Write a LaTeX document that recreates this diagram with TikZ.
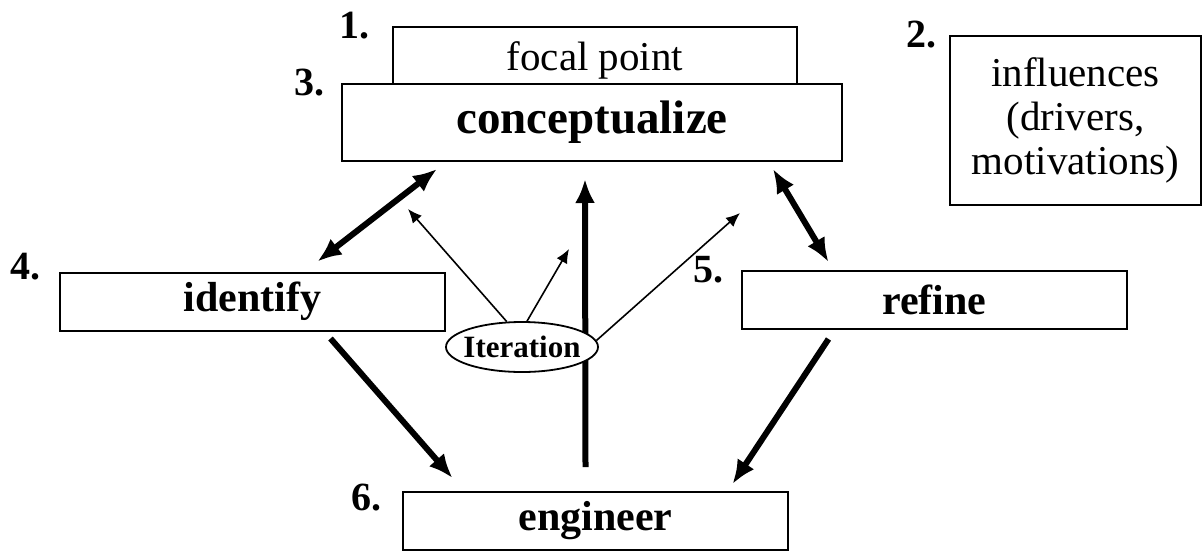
\documentclass[tikz,border=0pt]{standalone}
\usepackage{fontspec}
\setmainfont{Liberation Serif}
\usetikzlibrary{positioning,shapes.geometric,arrows.meta,calc}

\tikzset{
  box/.style={draw, line width=1pt, fill=white, minimum width=192.5pt, minimum height=29pt, font=\fontsize{21}{24}\selectfont\bfseries},
  num/.style={inner sep=0pt, font=\fontsize{20}{24}\selectfont\bfseries},
  link/.style={line width=3pt, -{Latex[length=12pt,width=10pt]}},
  linkboth/.style={line width=3pt, {Latex[length=12pt,width=10pt]}-{Latex[length=12pt,width=10pt]}},
  hint/.style={line width=0.8pt, -{Latex[length=7pt,width=6pt]}}
}

\begin{document}
\begin{tikzpicture}[x=0.5pt,y=-0.5pt]
\useasboundingbox (0,0) rectangle (1204,552);
\node[box, minimum width=202pt, minimum height=33pt, font=\fontsize{20.5}{24}\selectfont] (focal) at (595,60) {focal point};
\node[box, minimum width=250pt, minimum height=38.5pt, font=\fontsize{23.5}{28}\selectfont\bfseries] (concept) at (592,122.5) {conceptualize};
\node[box, minimum width=125.5pt, minimum height=84.5pt, align=center, font=\fontsize{20.5}{22}\selectfont] (infl) at (1075.5,120.5) {influences\\(drivers,\\motivations)};
\node[box] (identify) at (252.5,301.5) {identify};
\node[box] (refine) at (934.5,300) {refine};
\node[box] (engineer) at (595.5,521) {engineer};
\node[num, left=11pt of focal.north west] (n1) {1.};
\node[num, left=6pt of infl.north west] (n2) {2.};
\node[num, left=8pt of concept.north west] (n3) {3.};
\node[num, left=9pt of identify.north west, yshift=2.5pt] (n4) {4.};
\node[num, left=8.5pt of refine.north west] (n5) {5.};
\node[num, left=10pt of engineer.north west, yshift=-3.5pt] (n6) {6.};
\draw[linkboth] ($(concept.south)+(-155,7)$) -- ($(identify.north)+(65,-10)$);
\draw[linkboth] ($(concept.south)+(181,7)$) -- ($(refine.north)+(-106,-8)$);
\draw[link] ($(identify.south)+(78,7)$) -- ($(engineer.north)+(-143,-13)$);
\draw[link] ($(refine.south)+(-106,9)$) -- ($(engineer.north)+(137,-7)$);
\draw[link] ($(engineer.north)+(-10,-24)$) -- ($(concept.south)+(-7,17)$);
\node[ellipse, draw, line width=0.9pt, fill=white, minimum width=76pt, minimum height=25pt, inner xsep=-3pt, font=\fontsize{15.5}{18}\selectfont\bfseries] (iter) at (522,347) {Iteration};
\draw[hint] (iter.121) -- ($(concept.south)+(-184,47)$);
\draw[hint] (iter.79) -- ($(concept.south)+(-23,87)$);
\draw[hint] (iter.5) -- ($(concept.south)+(148,51)$);
\end{tikzpicture}
\end{document}
